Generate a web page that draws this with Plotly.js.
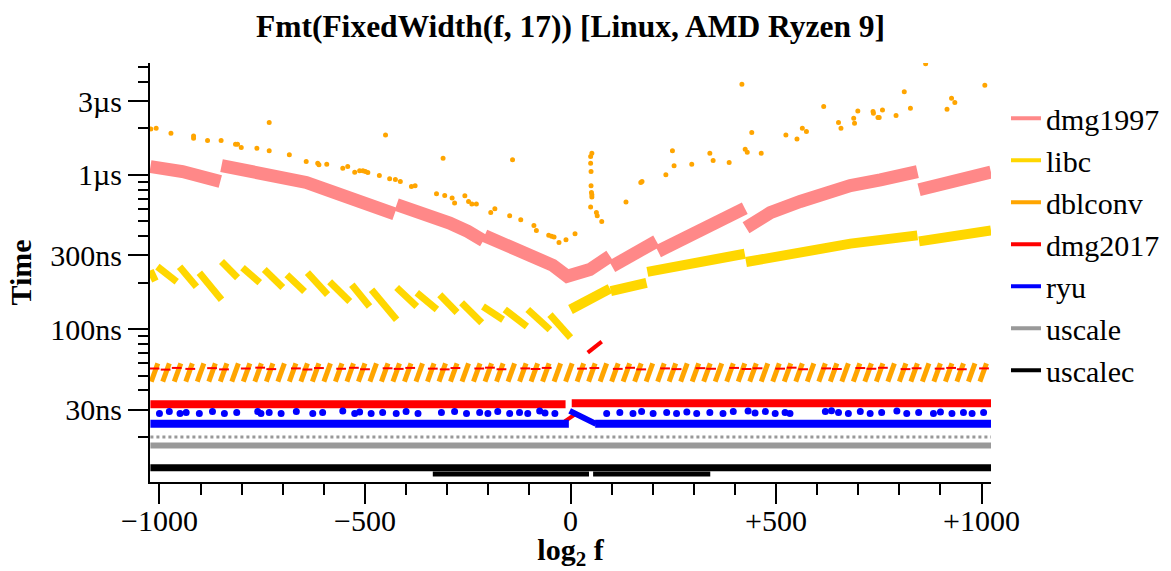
<!DOCTYPE html>
<html><head><meta charset="utf-8">
<script src="https://cdn.plot.ly/plotly-3.0.1.min.js"></script>
<style>html,body{margin:0;padding:0;background:#fff;}#chart{width:1171px;height:571px;}</style>
</head><body><div id="chart"></div>
<script>
// ---- data (x = log2 f, y = time in ns) ----
const dmg1997X = [-1022,-944,-852,null,-849,-781,-700,-643,-570,-521,-428,null,-423,-367,-335,-294,-250,-212,null,-209,-123,-43,-8,47,96,null,101,157,209,null,213,266,315,364,424,null,427,486,559,681,754,844,null,848,931,1023];
const dmg1997Y = [1131,1050,905,null,1148,1050,952,892,761,689,559,null,640,580,545,487,430,375,null,403,327,259,220,243,297,null,255,310,371,null,319,379,427,496,607,null,454,568,672,852,928,1050,null,800,905,1041];

const libcLeftX = [-1022,-1010,null,-1005,-958,null,-951,-910,null,-903,-849,null,-849,-810,null,-798,-756,null,-745,-700,null,-690,-647,null,-640,-591,null,-586,-537,null,-532,-489,null,-484,-423,null,-423,-374,null,-374,-325,null,-318,-276,null,-265,-216,null,-213,-164,null,-160,-106,null,-104,-50,null,-50,0];
const libcLeftY = [240,205,null,254,203,null,254,188,null,232,155,null,274,215,null,250,200,null,243,186,null,225,175,null,232,167,null,203,151,null,194,140,null,180,115,null,186,140,null,172,134,null,167,128,null,148,110,null,140,115,null,134,104,null,134,99,null,124,88];
const libcRightX = [0,96,null,98,185,null,187,266,364,424,null,427,559,681,844,null,848,1023];
const libcRightY = [134,183,null,176,199,null,235,255,285,308,null,272,319,358,405,null,370,436];

const dblconvStartX = [-1020,-992,-964,-936,-908,-880,-852,-824,-796,-768,-740,-712,-684,-656,-628,-600,-572,-544,-516,-488,-460,-432,-404,-376,-348,-320,-292,-264,-236,-208,-180,-152,-124,-96,-68,-40,-12,16,44,72,100,128,156,184,212,240,268,296,324,352,380,408,436,464,492,520,548,576,604,632,660,688,716,744,772,800,828,856,884,912,940,968,996];
const dblconvEndX = [-1004,-976,-948,-920,-892,-864,-836,-808,-780,-752,-724,-696,-668,-640,-612,-584,-556,-528,-500,-472,-444,-416,-388,-360,-332,-304,-276,-248,-220,-192,-164,-136,-108,-80,-52,-24,4,32,60,88,116,144,172,200,228,256,284,312,340,368,396,424,452,480,508,536,564,592,620,648,676,704,732,760,788,816,844,872,900,928,956,984,1012];
const dblconvLow = 45.6, dblconvHigh = 60.0;
const dblconvDots = [[-1021,1985],[-1008,2006],[-972,1862],[-917,1788],[-917,1728],[-883,1667],[-850,1667],[-815,1580],[-810,1580],[-801,1502],[-763,1489],[-733,2181],[-733,1430],[-684,1347],[-643,1219],[-615,1190],[-612,1161],[-593,1173],[-554,1105],[-542,1132],[-525,1041],[-513,1061],[-505,1061],[-499,1050],[-493,1035],[-465,990],[-450,1815],[-440,942],[-426,932],[-414,905],[-387,840],[-378,849],[-326,753],[-310,1283],[-306,735],[-288,707],[-282,656],[-257,731],[-248,672],[-240,646],[-229,646],[-194,570],[-184,602],[-148,543],[-141,1251],[-121,511],[-89,470],[-83,436],[-53,405],[-46,399],[-40,395],[-28,364],[-11,380],[11,415],[49,618],[49,1313],[52,1382],[49,1190],[50,1050],[50,849],[51,768],[52,742],[52,717],[63,570],[65,543],[76,498],[135,666],[171,892],[174,905],[232,1000],[248,1430],[252,1144],[295,1173],[339,1382],[347,1238],[386,1201],[417,3865],[425,1467],[430,1403],[441,1878],[464,1382],[524,1815],[551,1710],[564,2006],[574,1907],[616,2768],[652,2181],[658,2006],[689,2328],[691,2161],[699,2596],[736,2570],[737,2509],[748,2349],[751,2349],[759,2634],[792,2420],[812,3461],[827,2703],[864,5250],[916,2663],[927,3136],[935,2938],[1008,3807]];

const dmg2017BandX = [-1022,-12,null,3,1023];
const dmg2017BandY = [32.6,32.6,null,33.0,33.0];
const dmg2017Dashes = [[-1012,55.5],[-985,54.6],[-958,56.0],[-925,55.2],[-872,55.8],[-843,54.8],[-790,55.5],[-755,56.2],[-728,55.0],[-668,55.6],[-640,54.7],[-612,55.9],[-558,55.3],[-527,56.1],[-500,54.9],[-445,55.7],[-418,55.2],[-390,56.0],[-335,55.4],[-306,54.8],[-280,55.9],[-222,55.5],[-196,56.2],[-168,54.9],[-110,55.6],[-85,55.1],[-58,56.0],[28,55.4],[58,55.9],[115,55.2],[145,56.1],[172,54.8],[230,55.6],[258,55.0],[316,55.8],[342,55.3],[398,56.0],[428,55.1],[455,55.7],[510,55.4],[538,56.2],[566,54.9],[622,55.6],[648,55.1],[705,55.9],[732,55.3],[760,56.1],[815,55.0],[842,55.7],[898,55.4],[926,56.0],[952,54.9],[1006,55.6]];
const dmg2017SpikeX = [42,76,null,-14,10];
const dmg2017SpikeY = [70.4,83.0,null,25.2,27.9];

const ryuBandX = [-1022,-4,null,60,1023];
const ryuBandY = [24.3,24.3,null,24.3,24.3];
const ryuSpikeX = [-2,20,62];
const ryuSpikeY = [29.5,27.6,24.3];
const ryuHooks = [[-1000,28.4],[-976,29.2],[-950,28.4],[-935,28.8],[-903,28.4],[-871,29.2],[-842,28.4],[-812,28.8],[-761,29.2],[-753,28.4],[-733,28.8],[-704,28.4],[-667,29.2],[-627,28.4],[-603,28.8],[-554,29.4],[-525,28.4],[-513,29.0],[-485,28.4],[-457,28.8],[-424,28.4],[-400,29.2],[-371,28.4],[-314,28.8],[-282,29.2],[-253,28.4],[-221,28.8],[-201,28.4],[-177,29.2],[-148,28.4],[-124,28.8],[-104,28.4],[-75,29.4],[-62,28.6],[-38,28.4],[88,28.4],[120,28.8],[152,28.4],[173,29.2],[201,28.4],[234,28.8],[258,28.4],[283,29.0],[307,28.4],[339,28.8],[371,28.4],[396,29.2],[432,29.4],[449,28.6],[474,29.2],[498,28.4],[522,28.8],[534,28.4],[620,29.2],[635,29.6],[652,28.8],[676,28.4],[705,29.2],[729,28.4],[757,28.8],[794,29.4],[818,28.4],[847,28.8],[883,28.4],[900,29.0],[928,28.4],[956,28.8],[977,28.4],[1005,28.8]];

const uscaleX = [-1022,1023];
const uscaleY = [17.6,17.6];
const uscaleUpperX = [-1022,1023];
const uscaleUpperY = [20.0,20.0];

const uscalecX = [-1022,1023];
const uscalecY = [12.6,12.6];
const uscalecLowX = [-335,45,null,55,340];
const uscalecLowY = [11.5,11.5,null,11.5,11.5];

const yTickVals = [30,100,300,1000,3000];
const yTickText = ['30ns','100ns','300ns','1µs','3µs'];
const yMinorVals = [20,40,50,60,70,80,90,200,400,500,600,700,800,900,2000,4000,5000];
const xTickVals = [-1000,-500,0,500,1000];
const xTickText = ['\u22121000','\u2212500','0','+500','+1000'];
const xMinorVals = [-900,-800,-700,-600,-400,-300,-200,-100,100,200,300,400,600,700,800,900];

// ---- build traces ----
const C = {dmg1997:'#ff8888', libc:'#ffd700', dblconv:'#ffa500', dmg2017:'#ff0000', ryu:'#0000ff', uscale:'#999999', uscalec:'#000000'};
const slashX = [], slashY = [];
dblconvStartX.forEach((s,i)=>{ slashX.push(s, dblconvEndX[i], null); slashY.push(dblconvLow, dblconvHigh, null); });

function ln(name, x, y, color, width, show, extra){
  return Object.assign({type:'scatter', mode:'lines', name:name, x:x, y:y, showlegend:show, hoverinfo:'skip',
    line:{color:color, width:width}}, extra||{});
}
function pts(name, pairs, color, size, symbol, show){
  return {type:'scatter', mode:'markers', name:name, x:pairs.map(p=>p[0]), y:pairs.map(p=>p[1]), showlegend:show, hoverinfo:'skip',
    marker:{color:color, size:size, symbol:symbol, line:{color:color, width:2}}};
}
const traces = [
  ln('dmg1997', dmg1997X, dmg1997Y, C.dmg1997, 13, true),
  ln('libc', libcLeftX, libcLeftY, C.libc, 7, true),
  ln('libc', libcRightX, libcRightY, C.libc, 10, false),
  ln('dblconv', slashX, slashY, C.dblconv, 5, true),
  pts('dblconv', dblconvDots, C.dblconv, 3, 'circle', false),
  ln('dmg2017', dmg2017BandX, dmg2017BandY, C.dmg2017, 8, true),
  pts('dmg2017', dmg2017Dashes, C.dmg2017, 7, 'line-ew', false),
  ln('dmg2017', dmg2017SpikeX, dmg2017SpikeY, C.dmg2017, 4, false),
  ln('ryu', ryuBandX, ryuBandY, C.ryu, 8, true),
  ln('ryu', ryuSpikeX, ryuSpikeY, C.ryu, 6, false),
  pts('ryu', ryuHooks, C.ryu, 5, 'circle', false),
  ln('uscale', uscaleX, uscaleY, C.uscale, 6, true),
  ln('uscale', uscaleUpperX, uscaleUpperY, C.uscale, 3, false, {line:{color:C.uscale, width:3, dash:'dot'}}),
  ln('uscalec', uscalecX, uscalecY, C.uscalec, 7, true),
  ln('uscalec', uscalecLowX, uscalecLowY, C.uscalec, 5, false)
];

const FONT = '"Liberation Serif", "Times New Roman", serif';
const layout = {
  width:1171, height:571,
  margin:{l:150, r:180, t:63, b:89, pad:0},
  paper_bgcolor:'#ffffff', plot_bgcolor:'#ffffff',
  font:{family:FONT, size:30, color:'#000'},
  title:{text:'<b>Fmt(FixedWidth(f, 17)) [Linux, AMD Ryzen 9]</b>', font:{family:FONT, size:31.5, color:'#000'},
    x:0.5, xref:'paper', xanchor:'center', y:1-26/571, yref:'container', yanchor:'middle'},
  showlegend:true,
  legend:{x:1.0107, xanchor:'left', y:0.93, yanchor:'top', font:{family:FONT, size:30, color:'#000'},
    bgcolor:'rgba(0,0,0,0)', borderwidth:0, itemwidth:30, tracegroupgap:0},
  xaxis:{range:[-1023,1023], showline:true, linewidth:2, linecolor:'#000', mirror:false,
    ticks:'outside', ticklen:20, tickwidth:2, tickcolor:'#000', tickmode:'array', tickvals:xTickVals, ticktext:xTickText,
    ticklabelstandoff:-9,
    showgrid:false, zeroline:false, automargin:false, tickfont:{family:FONT, size:30},
    minor:{tickmode:'array', tickvals:xMinorVals, ticks:'outside', ticklen:11, tickwidth:2, tickcolor:'#000', showgrid:false},
    title:{text:'<b>log<sub>2</sub> f</b>', font:{family:FONT, size:30}, standoff:4}},
  yaxis:{type:'log', range:[Math.log10(10.2), Math.log10(5308)], showline:true, linewidth:2, linecolor:'#000', mirror:false,
    ticks:'outside', ticklen:20, tickwidth:2, tickcolor:'#000', tickmode:'array', tickvals:yTickVals, ticktext:yTickText,
    showgrid:false, zeroline:false, automargin:false, tickfont:{family:FONT, size:30},
    minor:{tickmode:'array', tickvals:yMinorVals, ticks:'outside', ticklen:10, tickwidth:2, tickcolor:'#000', showgrid:false},
    title:{text:'<b>Time</b>', font:{family:FONT, size:30}, standoff:10}}
};
Plotly.newPlot('chart', traces, layout, {displayModeBar:false, staticPlot:true}).then(function(){
  document.querySelectorAll('#chart .legend .legendlines path').forEach(function(p){ p.style.strokeWidth='4px'; p.style.strokeDasharray=''; });
  var lg = document.querySelector('#chart .legend');
  if (lg) {
    var t = lg.getAttribute('transform') || '';
    var m = t.match(/translate\(\s*([-\d.]+)[ ,]+([-\d.]+)\s*\)/);
    if (m) lg.setAttribute('transform', 'translate(' + (parseFloat(m[1]) + 6) + ',' + m[2] + ')');
  }
});
</script></body></html>
